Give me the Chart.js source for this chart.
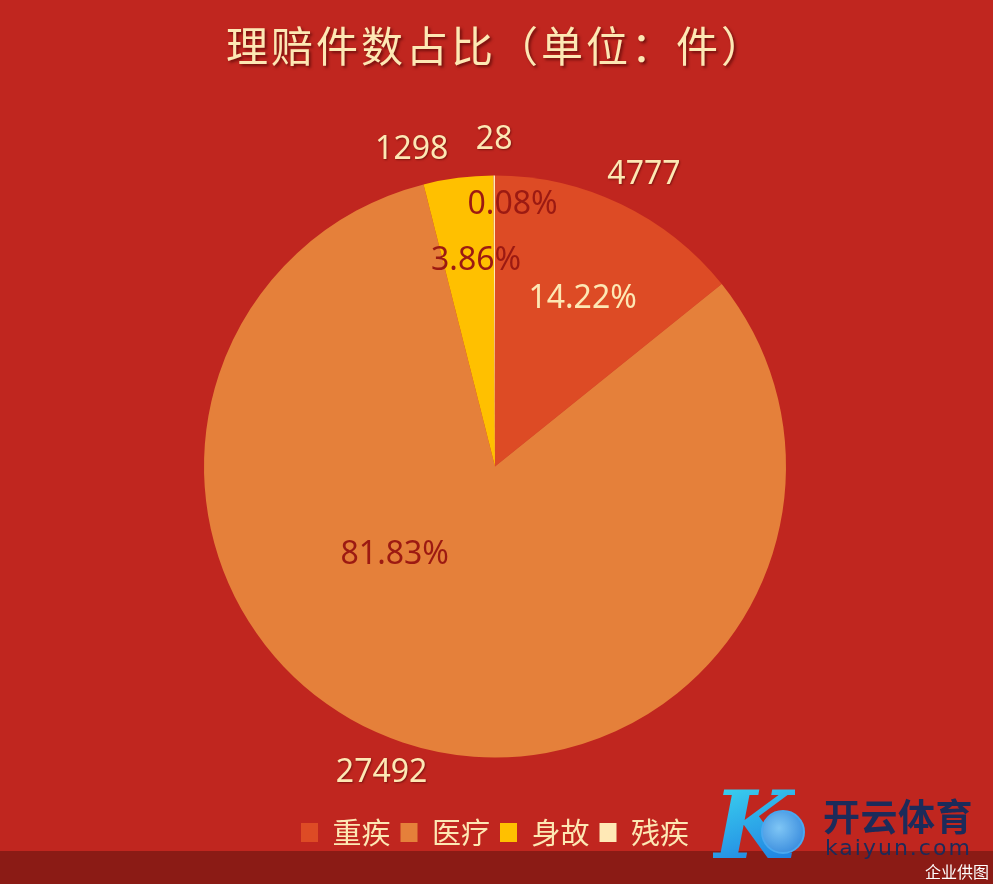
<!DOCTYPE html>
<html>
<head>
<meta charset="utf-8">
<script src="https://cdn.jsdelivr.net/npm/chart.js@4/dist/chart.umd.min.js"></script>
<style>
  html, body { margin: 0; padding: 0; }
  #wrap { position: relative; width: 993px; height: 884px; background: #c0261f; overflow: hidden; }
  #band { position: absolute; left: 0; bottom: 0; width: 993px; height: 33px; background: #8b1b15; }
  #holder { position: absolute; left: 0; top: 0; width: 993px; height: 884px; }
  #mark { position: absolute; left: 705px; top: 782px; width: 288px; height: 102px; }
  #logoK { position: absolute; left: 8px; top: -12px; font: italic bold 94px "DejaVu Serif", serif;
    background: linear-gradient(160deg, #3fe0f0, #1a6fe0); -webkit-background-clip: text; color: transparent; }
  #ball { position: absolute; left: 56px; top: 28px; width: 40px; height: 40px; border-radius: 50%;
    background: radial-gradient(circle at 40% 40%, #7fc6f5, #2a7fd8); border: 2px solid #4aa8f0; }
  #brand { position: absolute; left: 118px; top: 6px; font: bold 37px "Noto Sans CJK SC", sans-serif; color: #1c2b5a; letter-spacing: 0.5px; }
  #site { position: absolute; left: 120px; top: 53px; font: 22px "DejaVu Sans", sans-serif; color: #1c2b5a; letter-spacing: 2px; }
  #credit { position: absolute; left: 220px; top: 77px; font: 16px "Noto Sans CJK SC", sans-serif; color: #ffffff; }
</style>
</head>
<body>
<div id="wrap">
  <div id="band"></div>
  <div id="holder"><canvas id="claims-chart"></canvas></div>
  <div id="mark">
    <div id="logoK">K</div>
    <div id="ball"></div>
    <div id="brand">开云体育</div>
    <div id="site">kaiyun.com</div>
    <div id="credit">企业供图</div>
  </div>
</div>
<script>
'use strict';

// *** Data ***

let chartTitle = '理赔件数占比（单位：件）';
let categories = ['重疾', '医疗', '身故', '残疾'];
let claimCounts = [4777, 27492, 1298, 28];

// *** Styles ***

let sliceColors = ['#dd4b25', '#e5803a', '#ffc000', '#ffe9b6'];
let creamText = '#fde8b4';
let darkText = '#9c1a12';
let pctColors = [creamText, darkText, darkText, darkText];
let fontFamily = '"Noto Sans", "Noto Sans CJK SC", sans-serif';

// label placement tweaks (radius fraction / angle shift in degrees)
let pctRadius = [0.65, 0.46, 0.71, 0.9];
let pctShift = [2, 30, 2, 4];
let valueGap = 36;
let valueShift = [1.5, 1.8, -7.5, 0];

// *** Helpers ***

function toPercent(value) {
  let total = claimCounts.reduce((a, b) => a + b, 0);
  return (value / total * 100).toFixed(2) + '%';
}

// draws title, percent labels inside and counts outside
let labelPlugin = {
  id: 'claimLabels',
  afterDraw(chart) {
    let ctx = chart.ctx;
    let meta = chart.getDatasetMeta(0);
    ctx.save();

    // title
    ctx.font = '42px "Noto Sans CJK SC", sans-serif';
    ctx.letterSpacing = '3px';
    ctx.fillStyle = creamText;
    ctx.textAlign = 'center';
    ctx.textBaseline = 'middle';
    ctx.shadowColor = 'rgba(60, 0, 0, 0.6)';
    ctx.shadowOffsetX = 2;
    ctx.shadowOffsetY = 2;
    ctx.shadowBlur = 3;
    ctx.fillText(chartTitle, 496, 46);
    ctx.letterSpacing = '0px';

    ctx.font = '32px ' + fontFamily;
    for (let i = 0; i < meta.data.length; i++) {
      let arc = meta.data[i];
      let mid = (arc.startAngle + arc.endAngle) / 2;

      // count outside
      let a = mid + valueShift[i] * Math.PI / 180;
      let r = arc.outerRadius + valueGap;
      ctx.shadowColor = 'rgba(60, 0, 0, 0.5)';
      ctx.shadowOffsetX = 1;
      ctx.shadowOffsetY = 1;
      ctx.shadowBlur = 2;
      ctx.fillStyle = creamText;
      ctx.fillText(String(claimCounts[i]), arc.x + Math.cos(a) * r, arc.y + Math.sin(a) * r);

      // percent inside
      a = mid + pctShift[i] * Math.PI / 180;
      r = arc.outerRadius * pctRadius[i];
      ctx.shadowColor = 'transparent';
      ctx.fillStyle = pctColors[i];
      ctx.fillText(toPercent(claimCounts[i]), arc.x + Math.cos(a) * r, arc.y + Math.sin(a) * r);
    }
    ctx.restore();
  }
};

// *** Chart ***

let ctx = document.getElementById('claims-chart');

new Chart(ctx, {
  type: 'pie',
  data: {
    labels: categories,
    datasets: [{
      data: claimCounts,
      backgroundColor: sliceColors,
      borderWidth: 0
    }]
  },
  options: {
    responsive: true,
    maintainAspectRatio: false,
    animation: false,
    layout: {
      padding: { top: 125, left: 204, right: 207, bottom: 27 }
    },
    plugins: {
      title: { display: false },
      tooltip: { enabled: false },
      legend: {
        position: 'bottom',
        labels: {
          color: creamText,
          boxWidth: 17,
          boxHeight: 19,
          padding: 10,
          font: { size: 29, family: '"Noto Sans CJK SC", sans-serif' }
        }
      }
    }
  },
  plugins: [labelPlugin]
});
</script>
</body>
</html>
